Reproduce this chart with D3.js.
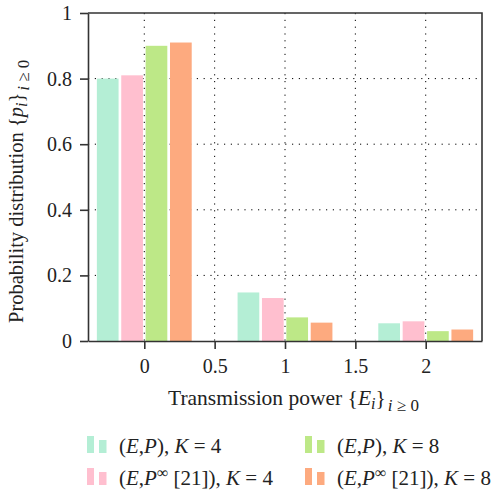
<!DOCTYPE html>
<html>
<head>
<meta charset="utf-8">
<script src="https://cdn.jsdelivr.net/npm/d3@7"></script>
<style>
  body { margin: 0; background: #fff; }
  svg { display: block; font-family: "Liberation Serif", serif; }
</style>
</head>
<body>
<script>
// data
const categories = [0, 1, 2];
const seriesKeys = ["epK4", "epInfK4", "epK8", "epInfK8"];
const seriesColors = ["#b4eed5", "#ffbfcf", "#bde887", "#fdaa7f"];
const epK4 = [0.80, 0.148, 0.054];
const epInfK4 = [0.81, 0.131, 0.060];
const epK8 = [0.90, 0.072, 0.030];
const epInfK8 = [0.91, 0.056, 0.035];
const yTicks = [0, 0.2, 0.4, 0.6, 0.8, 1];
const xTicks = [0, 0.5, 1, 1.5, 2];
// legend labels as pieces: [text, style]  (i = italic, sup = superscript)
const legendLabels = [
  [["(", ""], ["E", "i"], [",", ""], ["P", "i"], ["), ", ""], ["K", "i"], [" = 4", ""]],
  [["(", ""], ["E", "i"], [",", ""], ["P", "i"], ["∞", "sup"], [" [21]), ", ""], ["K", "i"], [" = 4", ""]],
  [["(", ""], ["E", "i"], [",", ""], ["P", "i"], ["), ", ""], ["K", "i"], [" = 8", ""]],
  [["(", ""], ["E", "i"], [",", ""], ["P", "i"], ["∞", "sup"], [" [21]), ", ""], ["K", "i"], [" = 8", ""]]
];

const values = { epK4, epInfK4, epK8, epInfK8 };
const data = categories.map((c, i) => {
  const row = { cat: c };
  seriesKeys.forEach(k => row[k] = values[k][i]);
  return row;
});

const W = 494, H = 492;
const margin = { top: 13, right: 12, bottom: 151, left: 88 };
const innerW = W - margin.left - margin.right,
  innerH = H - margin.top - margin.bottom;
const serif = "'Liberation Serif', 'Times New Roman', serif";

const svg = d3.select("body").append("svg")
  .attr("width", W)
  .attr("height", H)
  .attr("font-family", serif);

const x = d3.scaleLinear().domain([-0.4, 2.4]).range([margin.left, margin.left + innerW]);
const y = d3.scaleLinear().domain([0, 1]).range([margin.top + innerH, margin.top]);

// sub band inside each category, in pixels around the category centre
const half = x(0.337) - x(0);
const x1 = d3.scaleBand().domain(seriesKeys).range([-half, half]).paddingInner(0.11);
const color = d3.scaleOrdinal().domain(seriesKeys).range(seriesColors);

// dotted grid
const grid = svg.append("g")
  .attr("stroke", "#000")
  .attr("stroke-width", 1)
  .attr("stroke-dasharray", "1.2,5.6");
grid.selectAll("line.v")
  .data(xTicks)
  .enter().append("line")
  .attr("class", "v")
  .attr("x1", d => x(d)).attr("x2", d => x(d))
  .attr("y1", y(1)).attr("y2", y(0));
grid.selectAll("line.h")
  .data(yTicks.filter(d => d > 0 && d < 1))
  .enter().append("line")
  .attr("class", "h")
  .attr("x1", x(-0.4)).attr("x2", x(2.4))
  .attr("y1", d => y(d)).attr("y2", d => y(d));

// bars
svg.append("g")
  .selectAll("g")
  .data(data)
  .enter().append("g")
  .attr("transform", d => "translate(" + x(d.cat) + ",0)")
  .selectAll("rect")
  .data(d => seriesKeys.map(k => ({ key: k, value: d[k] })))
  .enter().append("rect")
  .attr("x", d => x1(d.key))
  .attr("width", x1.bandwidth())
  .attr("y", d => y(d.value))
  .attr("height", d => y(0) - y(d.value))
  .attr("fill", d => color(d.key));

// axes
const axisColor = "#333";
const yAxis = svg.append("g")
  .attr("transform", "translate(" + margin.left + ",0)")
  .call(d3.axisLeft(y).tickValues(yTicks).tickFormat(d3.format("~g"))
    .tickSize(8).tickSizeOuter(0).tickPadding(8));
const xAxis = svg.append("g")
  .attr("transform", "translate(0," + y(0) + ")")
  .call(d3.axisBottom(x).tickValues(xTicks).tickFormat(d3.format("~g"))
    .tickSize(8).tickSizeOuter(0).tickPadding(10));
[yAxis, xAxis].forEach(a => {
  a.attr("font-family", serif).attr("font-size", 20);
  a.selectAll("path, line").attr("stroke", axisColor).attr("stroke-width", 1.6);
  a.selectAll("text").attr("fill", "#222");
});

// top and right frame
svg.append("path")
  .attr("d", "M" + x(-0.4) + "," + y(1) + "H" + x(2.4) + "V" + y(0))
  .attr("fill", "none")
  .attr("stroke", axisColor)
  .attr("stroke-width", 1.6);

// axis titles
function subTitle(sel, main, sym) {
  sel.append("tspan").text(main + " {");
  sel.append("tspan").attr("font-style", "italic").text(sym);
  sel.append("tspan").attr("font-style", "italic").attr("font-size", 16).attr("dy", 4).text("i");
  sel.append("tspan").attr("dy", -4).text("}");
  sel.append("tspan").attr("font-size", 17).attr("dy", 6).attr("dx", 2).attr("font-style", "italic").text("i");
  sel.append("tspan").attr("font-size", 17).text(" ≥ 0");
}
const yTitle = svg.append("text")
  .attr("transform", "translate(23," + 323 + ") rotate(-90)")
  .attr("fill", "#222")
  .attr("font-size", 20.5);
subTitle(yTitle, "Probability distribution", "p");

const xTitle = svg.append("text")
  .attr("x", 168)
  .attr("y", 405)
  .attr("fill", "#222")
  .attr("font-size", 21.5);
subTitle(xTitle, "Transmission power", "E");

// legend
const legendPos = [[87, 453], [87, 485], [305, 453], [305, 485]];
const legend = svg.append("g")
  .selectAll("g")
  .data(seriesKeys)
  .enter().append("g")
  .attr("transform", (d, i) => "translate(" + legendPos[i][0] + "," + legendPos[i][1] + ")");
legend.append("rect")
  .attr("x", 0).attr("y", -17).attr("width", 7).attr("height", 17)
  .attr("fill", d => color(d));
legend.append("rect")
  .attr("x", 12).attr("y", -13).attr("width", 7.5).attr("height", 13)
  .attr("fill", d => color(d));
legend.each(function (d, i) {
  const t = d3.select(this).append("text")
    .attr("x", 32)
    .attr("y", 0)
    .attr("fill", "#222")
    .attr("font-size", 21);
  let shifted = false;
  legendLabels[i].forEach(([txt, st]) => {
    const s = t.append("tspan").text(txt);
    if (st === "i") s.attr("font-style", "italic");
    if (st === "sup") {
      s.attr("font-size", 16).attr("dy", -7);
      shifted = true;
    } else if (shifted) {
      s.attr("dy", 7);
      shifted = false;
    }
  });
});
</script>
</body>
</html>
